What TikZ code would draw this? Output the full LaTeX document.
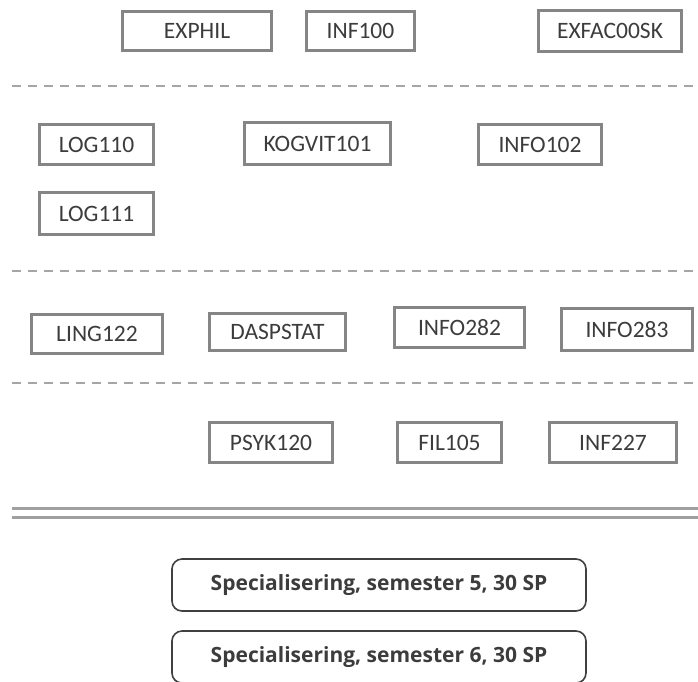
\documentclass[tikz,border=0pt]{standalone}
\usepackage{fontspec}
\setmainfont{Carlito}
\newfontfamily\specfont{Open Sans}
\definecolor{boxgray}{HTML}{858585}
\definecolor{txtgray}{HTML}{3C3C3C}
\definecolor{dashgray}{HTML}{A6A6A6}
\definecolor{dblgray}{HTML}{A0A0A0}
\definecolor{rndgray}{HTML}{404040}
\tikzset{
  course/.style={draw=boxgray, line width=3.5pt, fill=white, text=txtgray,
    font=\fontsize{23.5}{25}\selectfont, inner sep=0pt, anchor=center},
  spec/.style={draw=rndgray, line width=1.6pt, rounded corners=10pt, text=txtgray,
    font=\specfont\bfseries\fontsize{21}{23}\selectfont, minimum width=414pt, minimum height=52pt, inner sep=0pt},
  sep/.style={draw=dashgray, line width=2pt, dash pattern=on 9pt off 7pt},
  dbl/.style={draw=dblgray, line width=3pt}
}
\begin{document}
\begin{tikzpicture}[x=1pt,y=-1pt]
\useasboundingbox (0,0) rectangle (698,681);
% row 1
\node[course, minimum width=149pt, minimum height=39pt] (exphil) at (197,31) {EXPHIL};
\node[course, minimum width=108pt, minimum height=39pt] (inf100) at (360.5,31) {INF100};
\node[course, minimum width=143pt, minimum height=41pt] (exfac) at (610,31) {EXFAC00SK};
\coordinate (s1l) at (12,86); \coordinate (s1r) at (698,86);
\draw[sep] (s1l) -- (s1r);
% row 2
\node[course, minimum width=114pt, minimum height=40pt] (log110) at (96.5,144.5) {LOG110};
\node[course, minimum width=146pt, minimum height=42pt] (kogvit) at (317.5,143.5) {KOGVIT101};
\node[course, minimum width=123pt, minimum height=40pt] (info102) at (540,144.5) {INFO102};
\node[course, minimum width=114pt, minimum height=42pt] (log111) at (96.5,213.5) {LOG111};
\coordinate (s2l) at (12,271); \coordinate (s2r) at (698,271);
\draw[sep] (s2l) -- (s2r);
% row 3
\node[course, minimum width=131pt, minimum height=39pt] (ling122) at (97,334) {LING122};
\node[course, minimum width=136pt, minimum height=37pt] (daspstat) at (277.5,332) {DASPSTAT};
\node[course, minimum width=130pt, minimum height=40pt] (info282) at (459.5,327.5) {INFO282};
\node[course, minimum width=131pt, minimum height=42pt] (info283) at (627,329.5) {INFO283};
\coordinate (s3l) at (12,383); \coordinate (s3r) at (698,383);
\draw[sep] (s3l) -- (s3r);
% row 4
\node[course, minimum width=123pt, minimum height=40pt] (psyk120) at (271,442.5) {PSYK120};
\node[course, minimum width=104pt, minimum height=40pt] (fil105) at (449.5,442.5) {FIL105};
\node[course, minimum width=127pt, minimum height=40pt] (inf227) at (613,442.5) {INF227};
% double line
\coordinate (d1l) at (12,508); \coordinate (d1r) at (698,508);
\coordinate (d2l) at (12,517); \coordinate (d2r) at (698,517);
\draw[dbl] (d1l) -- (d1r);
\draw[dbl] (d2l) -- (d2r);
% specialisation
\node[spec] (sem5) at (379,585) {Specialisering, semester 5, 30 SP};
\node[spec] (sem6) at (379,657) {Specialisering, semester 6, 30 SP};
\end{tikzpicture}
\end{document}
